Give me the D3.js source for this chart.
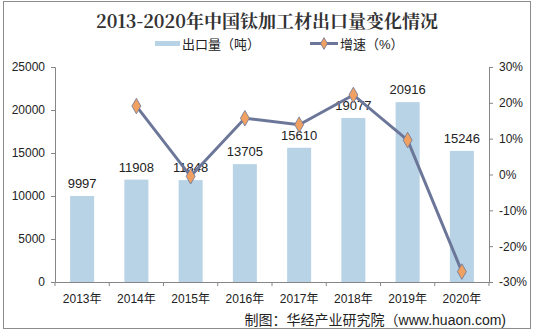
<!DOCTYPE html>
<html><head><meta charset="utf-8">
<script src="https://cdn.jsdelivr.net/npm/d3@7"></script>
<style>body{margin:0;background:#fff}svg{display:block}</style>
</head><body>
<script>
const years = ["2013年","2014年","2015年","2016年","2017年","2018年","2019年","2020年"];
const exportVol = [9997,11908,11848,13705,15610,19077,20916,15246];
const growth = [null,19.1,-0.5,15.7,13.9,22.2,9.6,-27.1];
const leftTicks = [0,5000,10000,15000,20000,25000];
const rightTicks = [-30,-20,-10,0,10,20,30];

const W=535,H=335;
const svg=d3.select("body").append("svg").attr("width",W).attr("height",H);
const font="'Liberation Sans',Arial,'Noto Sans CJK SC',sans-serif";
svg.append("rect").attr("x",3.5).attr("y",1.5).attr("width",527).attr("height",327)
  .attr("fill","#fff").attr("stroke","#8c8c8c");

const L=55,R=489,T=67,B=282;
const x=d3.scaleBand().domain(years).range([L,R]);
const y=d3.scaleLinear().domain([0,25000]).range([B,T]);
const y2=d3.scaleLinear().domain([-30,30]).range([B,T]);
const axisCol="#868686";

svg.append("text").attr("x",267).attr("y",28).attr("text-anchor","middle")
  .attr("font-family","'Noto Serif CJK SC','Noto Sans CJK SC',serif").attr("font-weight","bold")
  .attr("font-size",18).attr("fill","#333").text("2013-2020年中国钛加工材出口量变化情况");

// legend
const lg=svg.append("g").attr("font-family",font).attr("font-size",13).attr("fill","#222");
lg.append("rect").attr("x",155).attr("y",41).attr("width",25).attr("height",5).attr("fill","#b8d3e5");
lg.append("text").attr("x",182).attr("y",49).text("出口量（吨）");
lg.append("line").attr("x1",310).attr("x2",338).attr("y1",43.5).attr("y2",43.5).attr("stroke","#6b7699").attr("stroke-width",3);
lg.append("path").attr("d",d3.symbol(d3.symbolDiamond,40)()).attr("transform","translate(324,43.5)")
  .attr("fill","#f0a060").attr("stroke","#6b7699").attr("stroke-width",0.8);
lg.append("text").attr("x",340).attr("y",49).text("增速（%）");

// bars
const bw=24;
svg.append("g").selectAll("rect").data(exportVol).join("rect")
  .attr("x",(d,i)=>x(years[i])+x.bandwidth()/2-bw/2).attr("width",bw)
  .attr("y",d=>y(d)).attr("height",d=>B-y(d)).attr("fill","#b8d3e5");
svg.append("g").selectAll("text").data(exportVol).join("text")
  .attr("x",(d,i)=>x(years[i])+x.bandwidth()/2).attr("y",d=>y(d)-8)
  .attr("text-anchor","middle").attr("font-family",font).attr("font-size",13).attr("fill","#222")
  .text(d=>d);

// axes
const ax=svg.append("g").attr("transform",`translate(${L},0)`)
  .call(d3.axisLeft(y).tickValues(leftTicks).tickSize(4).tickPadding(6).tickFormat(d3.format("d")));
const ax2=svg.append("g").attr("transform",`translate(${R},0)`)
  .call(d3.axisRight(y2).tickValues(rightTicks).tickSize(4).tickPadding(6).tickFormat(d=>d+"%"));
const ax3=svg.append("g").attr("transform",`translate(0,${B})`)
  .call(d3.axisBottom(x).tickSize(0).tickPadding(12));
const bnd=years.map(d=>x(d)).concat([R]);
svg.append("g").selectAll("line").data(bnd).join("line")
  .attr("x1",d=>d).attr("x2",d=>d).attr("y1",B).attr("y2",B+4).attr("stroke",axisCol);
[ax,ax2,ax3].forEach(g=>{
  g.selectAll("path.domain").attr("stroke",axisCol);
  g.selectAll(".tick line").attr("stroke",axisCol);
  g.selectAll("text").attr("font-family",font).attr("font-size",12).attr("fill","#222");
});

// line
const pts=growth.map((g,i)=>({g,i})).filter(d=>d.g!==null);
const cx=d=>x(years[d.i])+x.bandwidth()/2;
svg.append("path").datum(pts).attr("fill","none").attr("stroke","#6b7699").attr("stroke-width",3)
  .attr("d",d3.line().x(cx).y(d=>y2(d.g)));
svg.append("g").selectAll("path").data(pts).join("path")
  .attr("d",d3.symbol(d3.symbolDiamond,70)())
  .attr("transform",d=>`translate(${cx(d)},${y2(d.g)})`)
  .attr("fill","#f0a060").attr("stroke","#6b7699").attr("stroke-width",0.8);

svg.append("text").attr("x",506).attr("y",325).attr("text-anchor","end")
  .attr("font-family",font).attr("font-size",14).attr("fill","#222")
  .text("制图：华经产业研究院（www.huaon.com)");
</script>
</body></html>
